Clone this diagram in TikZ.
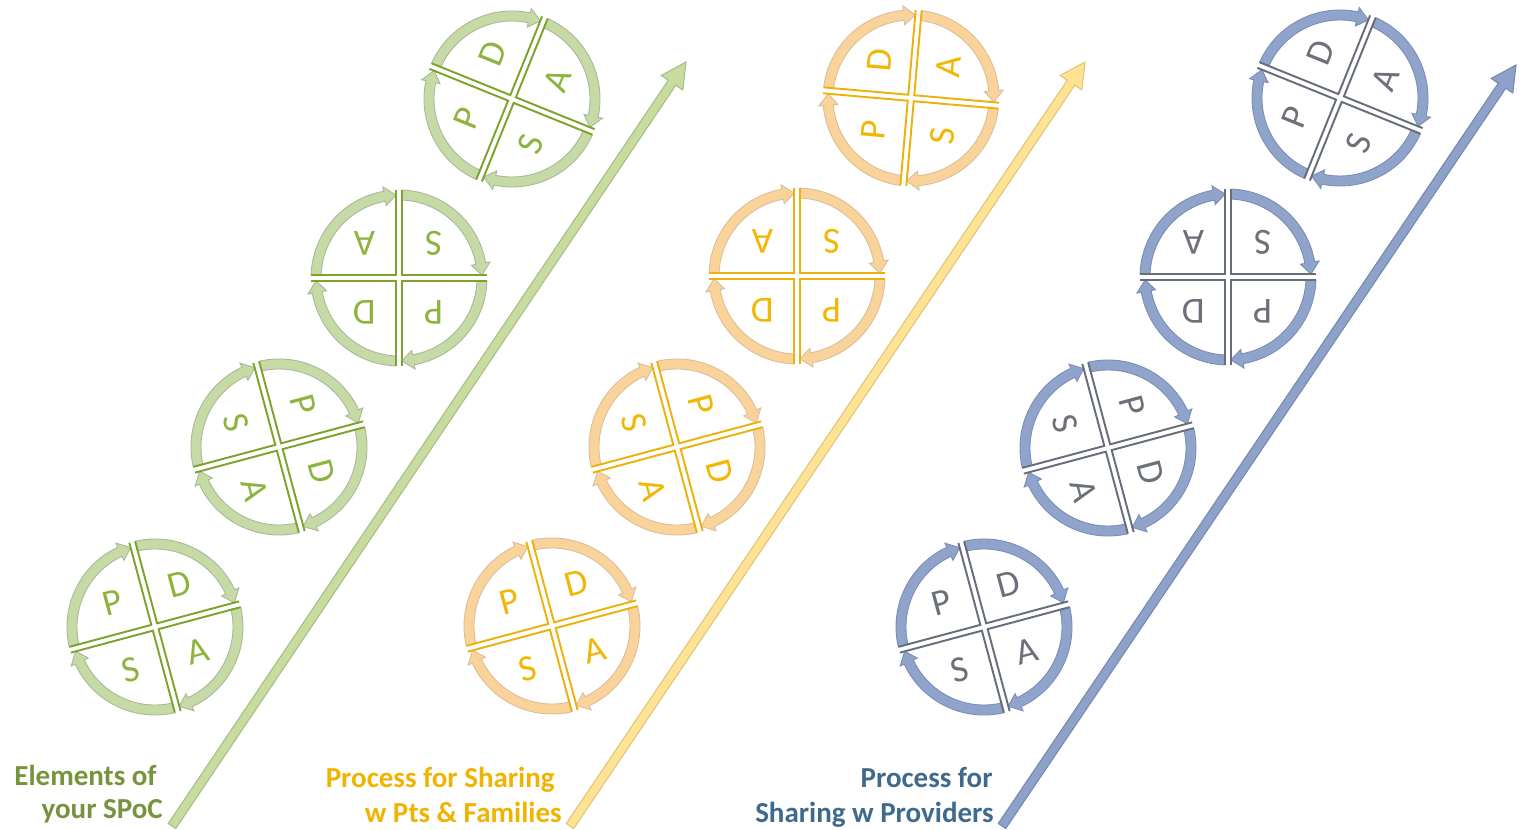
\documentclass[tikz,border=0pt]{standalone}
\usepackage{fontspec}
\setmainfont{Carlito}
\usetikzlibrary{calc}

\definecolor{greenband}{HTML}{C6DAA6}
\definecolor{greenrim}{HTML}{A9B79A}
\definecolor{greencross}{HTML}{7DA32C}
\definecolor{greenletter}{HTML}{8DB43E}
\definecolor{greenlabel}{HTML}{77933C}
\definecolor{greenarrow}{HTML}{C9DCA0}
\definecolor{greenarrowrim}{HTML}{A7BC86}
\definecolor{orangeband}{HTML}{FAD39B}
\definecolor{orangerim}{HTML}{D9BE9A}
\definecolor{orangecross}{HTML}{EDB10C}
\definecolor{orangeletter}{HTML}{F2B705}
\definecolor{orangelabel}{HTML}{F0B400}
\definecolor{yellowarrow}{HTML}{FFE394}
\definecolor{yellowarrowrim}{HTML}{E2C479}
\definecolor{blueband}{HTML}{8FA3CB}
\definecolor{bluerim}{HTML}{7A8DB4}
\definecolor{bluecross}{HTML}{676D79}
\definecolor{blueletter}{HTML}{6B7079}
\definecolor{bluelabel}{HTML}{3F6A8B}
\definecolor{bluearrow}{HTML}{8EA2C9}
\definecolor{bluearrowrim}{HTML}{7489B2}

\tikzset{
  letterfont/.style={font=\fontsize{21}{21}\selectfont, transform shape, inner sep=0pt},
  labelfont/.style={font=\bfseries\fontsize{16.5}{19}\selectfont, inner sep=0pt, anchor=base east},
  gband/.style={fill=greenband, draw=greenrim, line width=0.5pt},
  gcross/.style={draw=greencross, line width=1.1pt},
  gletter/.style={letterfont, text=greenletter},
  oband/.style={fill=orangeband, draw=orangerim, line width=0.5pt},
  ocross/.style={draw=orangecross, line width=1.1pt},
  oletter/.style={letterfont, text=orangeletter},
  bband/.style={fill=blueband, draw=bluerim, line width=0.5pt},
  bcross/.style={draw=bluecross, line width=1.1pt},
  bletter/.style={letterfont, text=blueletter},
  garrow/.style={fill=greenarrow, draw=greenarrowrim, line width=0.6pt},
  yarrow/.style={fill=yellowarrow, draw=yellowarrowrim, line width=0.6pt},
  barrow/.style={fill=bluearrow, draw=bluearrowrim, line width=0.6pt},
  pics/pdsa/.style={code={
    % four quarters, each with its clockwise arrow band
    \foreach \turn in {0,-90,-180,-270}{
      \begin{scope}[rotate=\turn]
        \filldraw[#1band] (178:88) arc[start angle=178,end angle=100,radius=88]
          -- (100:92.5) -- (92:83) -- (100:73.5) -- (100:78)
          arc[start angle=100,end angle=178,radius=78] -- cycle;
        \draw[#1cross] (-3,87.9) -- (-3,3) -- (-87.9,3);
      \end{scope}
    }
    \node[#1letter] (-p) at (135:49) {P};
    \node[#1letter] (-d) at (45:49) {D};
    \node[#1letter] (-a) at (-45:49) {A};
    \node[#1letter] (-s) at (-135:49) {S};
  }}
}

% rising arrow from foot to tip
\newcommand{\risearrow}[3]{%
  \coordinate (#2base) at ($(#2)!0.5cm!(#1)$);
  \filldraw[#3] ($(#1)!0.09cm!90:(#2)$) -- ($(#2base)!0.09cm!-90:(#1)$)
    -- ($(#2base)!0.26cm!-90:(#1)$) -- (#2)
    -- ($(#2base)!0.26cm!90:(#1)$) -- ($(#2base)!0.09cm!90:(#1)$)
    -- ($(#1)!0.09cm!-90:(#2)$) -- cycle;}

\begin{document}
\begin{tikzpicture}[x=0.02cm,y=0.02cm]
  \useasboundingbox (0,0) rectangle (1522,829);
  \fill[white] (0,0) rectangle (1522,829);

  % arrows
  \coordinate (gfoot) at (172,3);
  \coordinate (gtip) at (686,767);
  \coordinate (yfoot) at (570,3);
  \coordinate (ytip) at (1085,767);
  \coordinate (bfoot) at (1002,3);
  \coordinate (btip) at (1516,764);
  \risearrow{gfoot}{gtip}{garrow}
  \risearrow{yfoot}{ytip}{yarrow}
  \risearrow{bfoot}{btip}{barrow}

  % elements of your SPoC
  \pic[rotate=15] (g1) at (155,202) {pdsa=g};
  \pic[rotate=-75] (g2) at (279,382) {pdsa=g};
  \pic[rotate=180] (g3) at (399,551) {pdsa=g};
  \pic[rotate=68] (g4) at (512,730) {pdsa=g};

  % sharing with patients and families
  \pic[rotate=15] (o1) at (552,203) {pdsa=o};
  \pic[rotate=-75] (o2) at (677,382) {pdsa=o};
  \pic[rotate=180] (o3) at (797,553) {pdsa=o};
  \pic[rotate=85] (o4) at (911,731) {pdsa=o};

  % sharing with providers
  \pic[rotate=15] (b1) at (984,202) {pdsa=b};
  \pic[rotate=-75] (b2) at (1108,381) {pdsa=b};
  \pic[rotate=180] (b3) at (1228,552) {pdsa=b};
  \pic[rotate=68] (b4) at (1340,731) {pdsa=b};

  % labels
  \node[labelfont, text=greenlabel] (gname1) at (157,44) {Elements of};
  \node[labelfont, text=greenlabel] (gname2) at (163,11) {your SPoC};
  \node[labelfont, text=orangelabel] (oname1) at (555,42) {Process for Sharing};
  \node[labelfont, text=orangelabel] (oname2) at (562,7) {w Pts \& Families};
  \node[labelfont, text=bluelabel] (bname1) at (993,42) {Process for};
  \node[labelfont, text=bluelabel] (bname2) at (994,7) {Sharing w Providers};
\end{tikzpicture}
\end{document}
